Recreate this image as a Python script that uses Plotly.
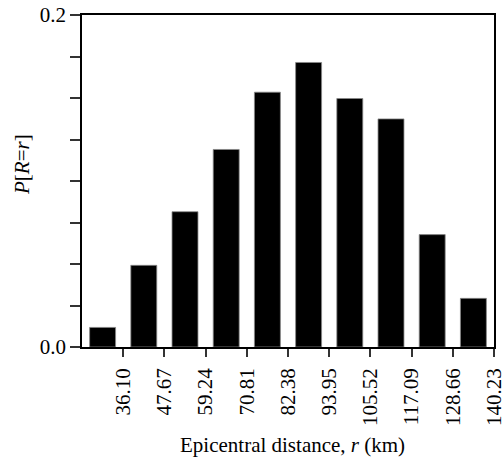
import plotly.graph_objects as go

# Bin edges (km); tick labels are the upper edges
bin_edges = [24.53, 36.10, 47.67, 59.24, 70.81, 82.38, 93.95, 105.52, 117.09, 128.66, 140.23]
tick_labels = ["36.10", "47.67", "59.24", "70.81", "82.38", "93.95", "105.52", "117.09", "128.66", "140.23"]
probabilities = [0.0118, 0.0492, 0.0815, 0.119, 0.1535, 0.1714, 0.1497, 0.1374, 0.0677, 0.0293]

centers = [(a + b) / 2 for a, b in zip(bin_edges[:-1], bin_edges[1:])]
bin_w = bin_edges[1] - bin_edges[0]

FONT = "Liberation Serif"
L, R, T, B = 82, 10, 15, 113
W, H = 504, 460
plot_w = W - L - R
plot_h = H - T - B

fig = go.Figure()
fig.add_trace(go.Bar(
    x=centers, y=probabilities, width=[bin_w * 0.63] * len(centers),
    marker=dict(color="black", line=dict(color="#888888", width=0.8)),
    showlegend=False,
))

y_ticks = [i * 0.025 for i in range(9)]
y_text = ["0.0"] + [""] * 7 + ["0.2"]

fig.update_layout(
    width=W, height=H,
    margin=dict(l=L, r=R, t=T, b=B, autoexpand=False),
    paper_bgcolor="white", plot_bgcolor="white",
    font=dict(family=FONT, size=21, color="black"),
    xaxis=dict(
        range=[bin_edges[0], bin_edges[-1]],
        tickvals=bin_edges[1:], ticktext=tick_labels, tickangle=-90,
        ticks="outside", ticklen=8, tickcolor="#333", tickwidth=1.5,
        showline=True, linecolor="black", linewidth=1.5, mirror=True,
        showgrid=False, zeroline=False, automargin=False,
        ticklabeloverflow="allow", ticklabelstandoff=3,
        tickfont=dict(family=FONT, size=21),
    ),
    yaxis=dict(
        range=[0, 0.2],
        tickvals=y_ticks, ticktext=y_text,
        ticks="outside", ticklen=10, tickcolor="#333", tickwidth=1.5,
        showline=True, linecolor="black", linewidth=1.5, mirror=True,
        showgrid=False, zeroline=False, automargin=False,
        ticklabeloverflow="allow",
        tickfont=dict(family=FONT, size=21),
    ),
    annotations=[
        dict(text="Epicentral distance, <i>r</i> (km)", xref="paper", yref="paper",
             x=(292 - L) / plot_w, y=(H - B - 445) / plot_h,
             xanchor="center", yanchor="middle",
             showarrow=False, font=dict(family=FONT, size=21)),
        dict(text="<i>P</i>[<i>R</i>=<i>r</i>]", xref="paper", yref="paper",
             x=(22 - L) / plot_w, y=(H - B - 165) / plot_h,
             xanchor="center", yanchor="middle",
             showarrow=False, textangle=-90, font=dict(family=FONT, size=21)),
    ],
)

fig.write_html("out.html")
